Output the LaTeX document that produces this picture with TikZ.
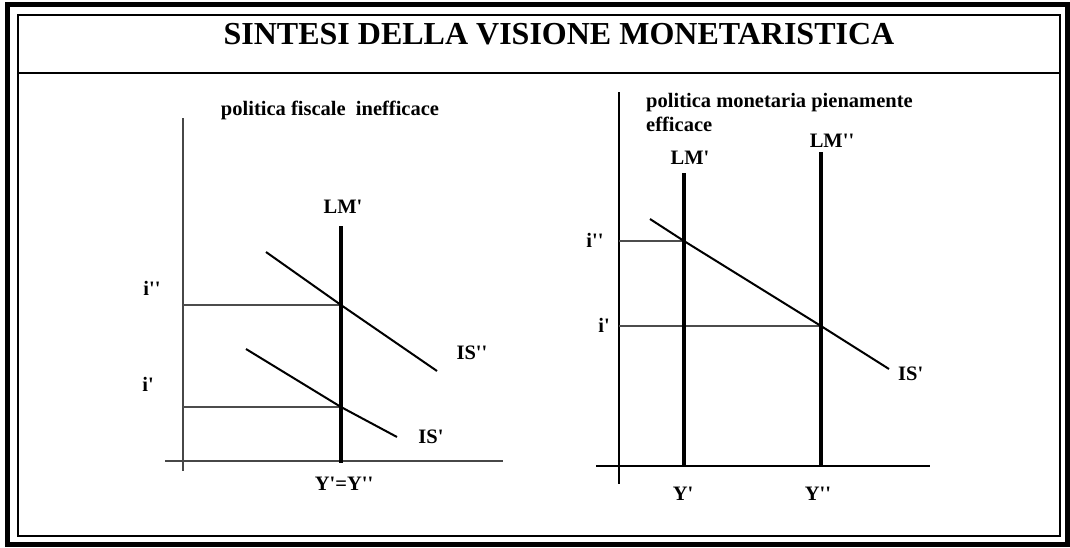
\documentclass[tikz,border=0pt]{standalone}
\usepackage{fontspec}
\setmainfont{Liberation Serif}[BoldFont={Liberation Serif Bold}]
\newcommand{\qq}{\textquotesingle}
\begin{document}
\begin{tikzpicture}[x=1pt,y=-1pt,
  lbl/.style={font=\bfseries\fontsize{20.5}{24}\selectfont, inner sep=0pt, anchor=base},
  lblw/.style={lbl, anchor=base west},
  ttl/.style={font=\bfseries\fontsize{32}{36}\selectfont, inner sep=0pt, anchor=base},
  axisline/.style={line width=2pt, draw=black!72},
  axisthin/.style={line width=1.4pt, draw=black},
  guide/.style={line width=1.5pt, draw=black!70},
  lmline/.style={line width=4pt, draw=black},
  isline/.style={line width=2pt, draw=black},
  outerframe/.style={line width=5pt, draw=black},
  innerframe/.style={line width=2pt, draw=black}]
\useasboundingbox (0,0) rectangle (1070,547);
% frames
\draw[outerframe] (7.5,4.5) rectangle (1067.5,544);
\draw[innerframe] (17.5,15) rectangle (1060,535.5);
\coordinate (sepL) at (17.5,72.5);
\coordinate (sepR) at (1060,72.5);
\draw[innerframe] (sepL) -- (sepR);
\node[ttl] (title) at (559,44) {SINTESI DELLA VISIONE MONETARISTICA};

% ---------- left graph ----------
\coordinate (LyTop) at (183,118);
\coordinate (LyBot) at (183,471);
\coordinate (LxL) at (165,461);
\coordinate (LxR) at (503,461);
\draw[axisline] (LyTop) -- (LyBot);
\draw[axisline] (LxL) -- (LxR);
\node[lbl] (ltitle) at (330,115) {politica fiscale\ \ inefficace};

\coordinate (LMaTop) at (341,226);
\coordinate (LMaBot) at (341,463);
\coordinate (E2) at (341,305);
\coordinate (E1) at (341,407);
\coordinate (A2) at (183,305);
\coordinate (A1) at (183,407);
\coordinate (IS2s) at (266,252);
\coordinate (IS2e) at (437,371);
\coordinate (IS1s) at (246,349);
\coordinate (IS1e) at (397,437);

\draw[guide] (A2) -- (E2);
\draw[guide] (A1) -- (E1);
\draw[isline] (IS2s) -- (E2) -- (IS2e);
\draw[isline] (IS1s) -- (E1) -- (IS1e);
\draw[lmline] (LMaTop) -- (LMaBot);

\node[lbl] (lLM) at (343,213) {LM\qq};
\node[lbl] (lIS2) at (472,359) {IS\qq\qq};
\node[lbl] (lIS1) at (431,443) {IS\qq};
\node[lbl] (lY) at (344,490) {Y\qq=Y\qq\qq};
\node[lbl] (li2) at (152,295) {i\qq\qq};
\node[lbl] (li1) at (148,391) {i\qq};

% ---------- right graph ----------
\coordinate (RyTop) at (619,92);
\coordinate (RyBot) at (619,484);
\coordinate (RxL) at (596,466);
\coordinate (RxR) at (930,466);
\draw[axisthin] (RyTop) -- (RyBot);
\draw[axisthin] (RxL) -- (RxR);
\node[lblw] (rtitle1) at (646,107) {politica monetaria pienamente};
\node[lblw] (rtitle2) at (646,131) {efficace};

\coordinate (RLMaTop) at (684,173);
\coordinate (RLMaBot) at (684,467);
\coordinate (RLMbTop) at (821,152);
\coordinate (RLMbBot) at (821,467);
\coordinate (F2) at (684,241);
\coordinate (F1) at (821,326);
\coordinate (B2) at (619,241);
\coordinate (B1) at (619,326);
\coordinate (RISs) at (650,219);
\coordinate (RISe) at (889,369);

\draw[guide] (B2) -- (F2);
\draw[guide] (B1) -- (F1);
\draw[isline] (RISs) -- (F2) -- (F1) -- (RISe);
\draw[lmline] (RLMaTop) -- (RLMaBot);
\draw[lmline] (RLMbTop) -- (RLMbBot);

\node[lbl] (rLMa) at (690,164) {LM\qq};
\node[lbl] (rLMb) at (832,147) {LM\qq\qq};
\node[lblw] (rIS) at (898,380) {IS\qq};
\node[lbl] (rY1) at (683,500) {Y\qq};
\node[lbl] (rY2) at (818,500) {Y\qq\qq};
\node[lbl] (ri2) at (595,247) {i\qq\qq};
\node[lbl] (ri1) at (604,332) {i\qq};
\end{tikzpicture}
\end{document}
